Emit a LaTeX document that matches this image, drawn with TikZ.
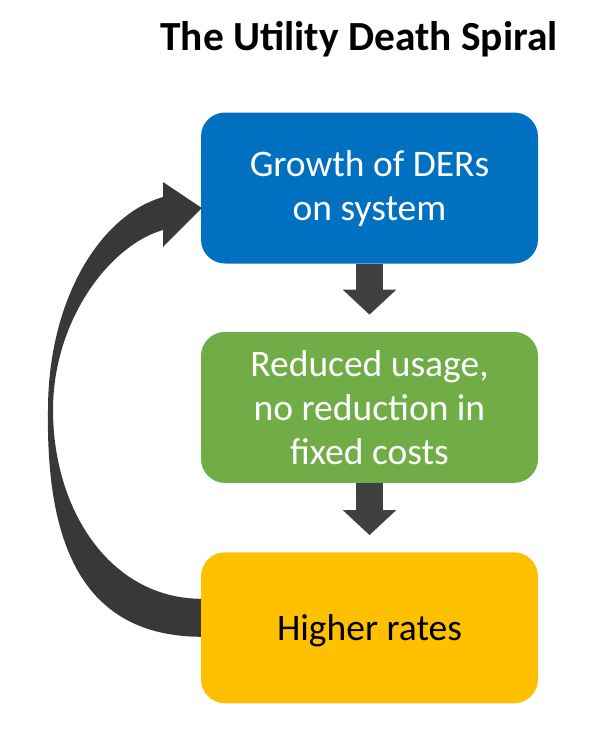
\documentclass[tikz,border=0pt]{standalone}
\usepackage{fontspec}
\setmainfont{Carlito}
\usetikzlibrary{positioning,arrows.meta,calc}
\definecolor{derblue}{HTML}{0070C0}
\definecolor{usagegreen}{HTML}{70AD47}
\definecolor{rateyellow}{HTML}{FFC000}
\definecolor{arrowgray}{HTML}{404040}
\definecolor{loopgray}{HTML}{383838}

\begin{document}
\begin{tikzpicture}[x=1pt,y=-1pt]
	\useasboundingbox (0,0) rectangle (613,737);
	\tikzset{stage/.style={rounded corners=24pt,minimum width=337pt,minimum height=151pt,align=center,inner sep=0pt,font=\fontsize{37.5}{44}\selectfont}}
	\tikzstyle{flow}=[arrowgray,line width=27pt,-{Triangle[width=52pt,length=25pt]},shorten >=17pt]

	%% Title
	\node[anchor=base,font=\bfseries\fontsize{41.4}{48}\selectfont] (title) at (359,50) {The Utility Death Spiral};

	%% Stages
	\node[stage,fill=derblue,text=white] (der) at (369.5,188) {Growth of DERs\\on system};
	\node[stage,fill=usagegreen,text=white,below=68pt of der] (usage) {Reduced usage,\\no reduction in\\fixed costs};
	\node[stage,fill=rateyellow,text=black,text depth=0pt,below=69pt of usage] (rates) {Higher rates};

	\draw[flow] (der.south) -- (usage.north);
	\draw[flow] (usage.south) -- (rates.north);

	%% Draw loop arrow
	\fill[loopgray] ($(rates.west)+(0,9)$) .. controls (80,636) and (46,540) .. (48,410)
		.. controls (48,300) and (100,215) .. (163,197) -- (163,182) -- ($(der.west)+(1,20)$)
		-- (163,247) -- (163,230) .. controls (110,245) and (53,320) .. (53,410)
		.. controls (53,510) and (110,598) .. ($(rates.west)+(0,-29)$) -- cycle;
\end{tikzpicture}
\end{document}
